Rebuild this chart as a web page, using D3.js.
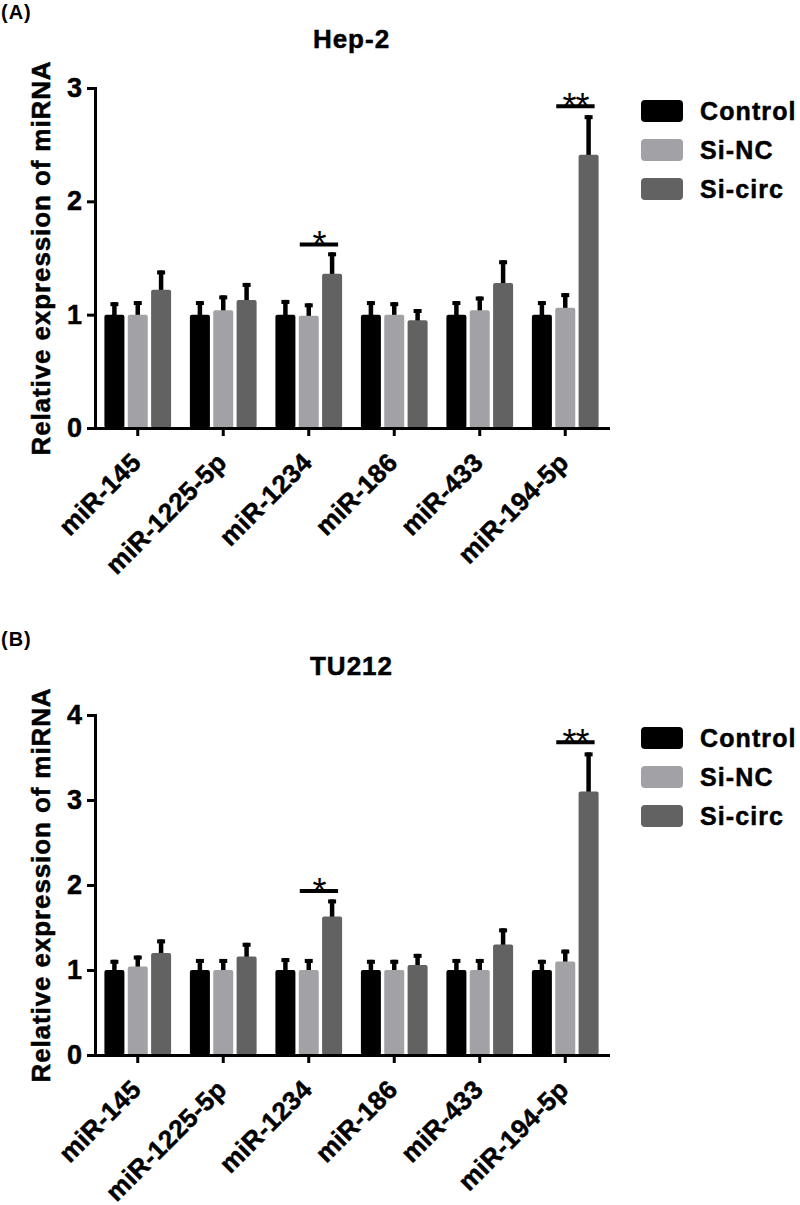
<!DOCTYPE html>
<html>
<head>
<meta charset="utf-8">
<script src="https://cdnjs.cloudflare.com/ajax/libs/d3/7.8.5/d3.min.js"></script>
<style>
  html, body { margin: 0; padding: 0; background: #fff; }
  svg { display: block; font-family: "Liberation Sans", Arial, Helvetica, sans-serif; }
  .heavy { stroke: #000; stroke-width: 0.5px; paint-order: stroke; }
</style>
</head>
<body>
<svg id="chart" width="800" height="1205"></svg>
<script>
// ---------------- data ----------------
const categories = ["miR-145", "miR-1225-5p", "miR-1234", "miR-186", "miR-433", "miR-194-5p"];
const seriesNames = ["Control", "Si-NC", "Si-circ"];

// Panel A: Hep-2
const hepControl    = [1.00, 1.00, 1.00, 1.00, 1.00, 1.00];
const hepControlErr = [0.11, 0.12, 0.13, 0.12, 0.12, 0.12];
const hepSiNC       = [1.00, 1.04, 0.99, 1.00, 1.04, 1.06];
const hepSiNCErr    = [0.12, 0.13, 0.11, 0.11, 0.12, 0.13];
const hepSiCirc     = [1.22, 1.13, 1.36, 0.95, 1.28, 2.41];
const hepSiCircErr  = [0.17, 0.15, 0.19, 0.10, 0.20, 0.35];
const hepYTicks     = [0, 1, 2, 3];
const hepSigCats    = ["miR-1234", "miR-194-5p"];
const hepSigLabels  = ["*", "**"];
const hepSigLevels  = [1.62, 2.84];

// Panel B: TU212
const tuControl    = [1.00, 1.00, 1.00, 1.00, 1.00, 1.00];
const tuControlErr = [0.12, 0.13, 0.14, 0.12, 0.13, 0.12];
const tuSiNC       = [1.04, 1.00, 1.00, 1.00, 1.00, 1.10];
const tuSiNCErr    = [0.13, 0.13, 0.13, 0.12, 0.13, 0.14];
const tuSiCirc     = [1.20, 1.16, 1.63, 1.06, 1.30, 3.10];
const tuSiCircErr  = [0.16, 0.16, 0.20, 0.13, 0.19, 0.46];
const tuYTicks     = [0, 1, 2, 3, 4];
const tuSigCats    = ["miR-1234", "miR-194-5p"];
const tuSigLabels  = ["*", "**"];
const tuSigLevels  = [1.93, 3.68];

// ---------------- styles ----------------
const seriesColors = ["#000000", "#a2a2a6", "#626262"];
const svg = d3.select("#chart");

function drawPanel(opt) {
  const left = 95, right = 608;
  const top = opt.top, bottom = opt.top + 340;
  const yMax = opt.yTicks[opt.yTicks.length - 1];

  const x0 = d3.scaleBand().domain(categories).range([left, right]).padding(0);
  const x1 = d3.scaleBand().domain(seriesNames).range([-33.35, 33.35]).paddingInner(0.143).paddingOuter(0);
  const y = d3.scaleLinear().domain([0, yMax]).range([bottom, top]);
  const color = d3.scaleOrdinal().domain(seriesNames).range(seriesColors);

  const g = svg.append("g");

  // panel letter
  g.append("text").attr("x", 1).attr("y", opt.top - 69)
    .attr("font-size", 20).attr("font-weight", "bold").attr("letter-spacing", 1)
    .text(opt.letter);

  // title
  g.append("text").attr("class", "heavy").attr("x", (left + right) / 2).attr("y", top - 40)
    .attr("text-anchor", "middle").attr("font-size", 26).attr("font-weight", "bold")
    .attr("letter-spacing", 1).text(opt.title);

  // bars
  const rows = [];
  categories.forEach((c, i) => {
    seriesNames.forEach((s, j) => {
      rows.push({ cat: c, series: s, value: opt.values[j][i], err: opt.errs[j][i] });
    });
  });

  const bx = d => x0(d.cat) + x0.bandwidth() / 2 + x1(d.series);
  const bw = x1.bandwidth();

  const eb = g.append("g");
  eb.selectAll("line.stem").data(rows).join("line")
    .attr("x1", d => bx(d) + bw / 2).attr("x2", d => bx(d) + bw / 2)
    .attr("y1", d => y(d.value) + 2).attr("y2", d => y(d.value + d.err))
    .attr("stroke", "#000").attr("stroke-width", 4.5);
  eb.selectAll("rect.cap").data(rows).join("rect")
    .attr("x", d => bx(d) + bw / 2 - 4).attr("width", 8)
    .attr("y", d => y(d.value + d.err)).attr("height", 4)
    .attr("fill", "#000");

  g.append("g").selectAll("rect").data(rows).join("rect")
    .attr("x", d => bx(d)).attr("width", bw)
    .attr("y", d => y(d.value)).attr("height", d => y(0) - y(d.value))
    .attr("rx", 2).attr("ry", 2)
    .attr("fill", d => color(d.series));

  // significance
  opt.sigCats.forEach((c, k) => {
    const cx = x0(c) + x0.bandwidth() / 2;
    const x1s = cx + x1("Si-NC") + bw / 2 - 9;
    const x2s = cx + x1("Si-circ") + bw / 2 + 6;
    const ly = y(opt.sigLevels[k]);
    g.append("line").attr("x1", x1s).attr("x2", x2s).attr("y1", ly).attr("y2", ly)
      .attr("stroke", "#000").attr("stroke-width", 4);
    g.append("text").attr("x", (x1s + x2s) / 2).attr("y", ly + 13)
      .attr("text-anchor", "middle").attr("font-size", 36).attr("font-weight", "normal")
      .attr("letter-spacing", -1)
      .text(opt.sigLabels[k]);
  });

  // y axis
  const ya = g.append("g").attr("transform", `translate(${left},0)`)
    .call(d3.axisLeft(y).tickValues(opt.yTicks).tickFormat(d3.format("d")).tickSize(8).tickSizeOuter(0).tickPadding(5));
  ya.select(".domain").attr("stroke-width", 3).attr("stroke-linecap", "square");
  ya.selectAll(".tick line").attr("stroke-width", 3);
  ya.selectAll(".tick text").attr("class", "heavy").attr("font-size", 27).attr("font-weight", "bold")
    .attr("font-family", "Liberation Sans, Arial, sans-serif").attr("fill", "#000");

  // x axis
  const xa = g.append("g").attr("transform", `translate(0,${bottom})`)
    .call(d3.axisBottom(x0).tickSize(8).tickSizeOuter(0));
  xa.select(".domain").attr("stroke-width", 3).attr("stroke-linecap", "square");
  xa.selectAll(".tick line").attr("stroke-width", 3);
  xa.selectAll(".tick text").attr("class", "heavy")
    .attr("font-size", 26).attr("font-weight", "bold").attr("letter-spacing", 0.3)
    .attr("font-family", "Liberation Sans, Arial, sans-serif").attr("fill", "#000")
    .attr("text-anchor", "end").attr("dy", null).attr("y", null)
    .attr("transform", "translate(5,36) rotate(-45)");

  // y label
  g.append("text").attr("class", "heavy")
    .attr("transform", `translate(50,${top + 170}) rotate(-90)`)
    .attr("text-anchor", "middle").attr("font-size", 26).attr("font-weight", "bold")
    .attr("letter-spacing", 0.9).text("Relative expression of miRNA");

  // legend
  const lg = g.append("g");
  seriesNames.forEach((s, j) => {
    const cy = top + 23 + j * 39;
    lg.append("rect").attr("x", 641).attr("y", cy - 11).attr("width", 42).attr("height", 22)
      .attr("rx", 4).attr("ry", 4).attr("fill", color(s));
    lg.append("text").attr("class", "heavy").attr("x", 700).attr("y", cy + 9)
      .attr("font-size", 25).attr("font-weight", "bold").attr("letter-spacing", 1.1)
      .text(s);
  });
}

drawPanel({
  top: 88, letter: "(A)", title: "Hep-2", yTicks: hepYTicks,
  values: [hepControl, hepSiNC, hepSiCirc], errs: [hepControlErr, hepSiNCErr, hepSiCircErr],
  sigCats: hepSigCats, sigLabels: hepSigLabels, sigLevels: hepSigLevels
});
drawPanel({
  top: 715, letter: "(B)", title: "TU212", yTicks: tuYTicks,
  values: [tuControl, tuSiNC, tuSiCirc], errs: [tuControlErr, tuSiNCErr, tuSiCircErr],
  sigCats: tuSigCats, sigLabels: tuSigLabels, sigLevels: tuSigLevels
});
</script>
</body>
</html>
